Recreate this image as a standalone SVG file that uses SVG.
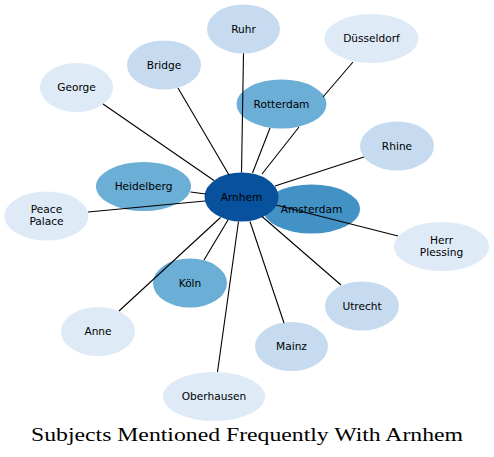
<svg xmlns="http://www.w3.org/2000/svg" width="494" height="457" viewBox="0 0 494 457">
<style>
.e{stroke:#000;stroke-width:1.1;fill:none}
text{font-family:"DejaVu Sans","Liberation Sans",sans-serif;font-size:10.6px;fill:#000;text-anchor:middle}
.c1{fill:#deebf7}.c2{fill:#c6dbef}.c3{fill:#6baed6}.c4{fill:#4292c6}.c5{fill:#08519c}
.t{font-family:"Liberation Serif","DejaVu Serif",serif;font-size:18.5px;text-anchor:start}
</style>
<rect width="494" height="457" fill="#fff"/>
<g id="nodes">
<g id="n-ruhr"><ellipse class="c2" cx="243.5" cy="29" rx="36.5" ry="24.5"/><text x="243.5" y="32.5">Ruhr</text></g>
<g id="n-dusseldorf"><ellipse class="c1" cx="371.5" cy="38.5" rx="47" ry="24.5"/><text x="371.5" y="42">Düsseldorf</text></g>
<g id="n-bridge"><ellipse class="c2" cx="164" cy="65" rx="37" ry="24.5"/><text x="164" y="68.5">Bridge</text></g>
<g id="n-george"><ellipse class="c1" cx="76.5" cy="87.5" rx="36.5" ry="24.5"/><text x="76.5" y="91">George</text></g>
<g id="n-rotterdam"><ellipse class="c3" cx="281.5" cy="104" rx="45" ry="24.5"/><text x="281.5" y="107.5">Rotterdam</text></g>
<g id="n-rhine"><ellipse class="c2" cx="397" cy="146" rx="37" ry="24.5"/><text x="397" y="149.5">Rhine</text></g>
<g id="n-heidelberg"><ellipse class="c3" cx="143.5" cy="186.5" rx="47.5" ry="24.5"/><text x="143.5" y="190">Heidelberg</text></g>
<g id="n-peace-palace"><ellipse class="c1" cx="46.5" cy="216" rx="42" ry="24.5"/><text x="46.5" y="213">Peace</text><text x="46.5" y="225">Palace</text></g>
<g id="n-amsterdam"><ellipse class="c4" cx="311.5" cy="209" rx="48.5" ry="24.5"/><text x="311.5" y="212.5">Amsterdam</text></g>
<g id="n-arnhem"><ellipse class="c5" cx="241.5" cy="197" rx="37" ry="24.5"/><text x="241.5" y="200.5">Arnhem</text></g>
<g id="n-herr-plessing"><ellipse class="c1" cx="441.5" cy="246.5" rx="47.5" ry="24.5"/><text x="441.5" y="243.5">Herr</text><text x="441.5" y="255.5">Plessing</text></g>
<g id="n-koln"><ellipse class="c3" cx="190" cy="283" rx="37" ry="24.5"/><text x="190" y="286.5">Köln</text></g>
<g id="n-utrecht"><ellipse class="c2" cx="362" cy="306" rx="37" ry="24.5"/><text x="362" y="309.5">Utrecht</text></g>
<g id="n-anne"><ellipse class="c1" cx="98" cy="331.5" rx="37" ry="24.5"/><text x="98" y="335">Anne</text></g>
<g id="n-mainz"><ellipse class="c2" cx="291.5" cy="346.5" rx="36.5" ry="24.5"/><text x="291.5" y="350">Mainz</text></g>
<g id="n-oberhausen"><ellipse class="c1" cx="214" cy="396.5" rx="51" ry="24.5"/><text x="214" y="400">Oberhausen</text></g>
</g>
<g id="connectors">
<path class="e" d="M243.5,53.5L241.5,172.5"/>
<path class="e" d="M270,128L252.5,173"/>
<path class="e" d="M353,62L323,97M299,127L262,174"/>
<path class="e" d="M178,88L229,175"/>
<path class="e" d="M103,104L214,180.5"/>
<path class="e" d="M190.5,192L206,194"/>
<path class="e" d="M88,212L205,201"/>
<path class="e" d="M364,157L275,186"/>
<path class="e" d="M276,205L398,236"/>
<path class="e" d="M341,285L262,216.5"/>
<path class="e" d="M284,323L250,221.5"/>
<path class="e" d="M217.5,372L238.5,221.5"/>
<path class="e" d="M204,260L228,220"/>
<path class="e" d="M119,311L220.5,217.5"/>
</g>
<text class="t" x="31" y="441" textLength="432" lengthAdjust="spacingAndGlyphs">Subjects Mentioned Frequently With Arnhem</text>
</svg>
